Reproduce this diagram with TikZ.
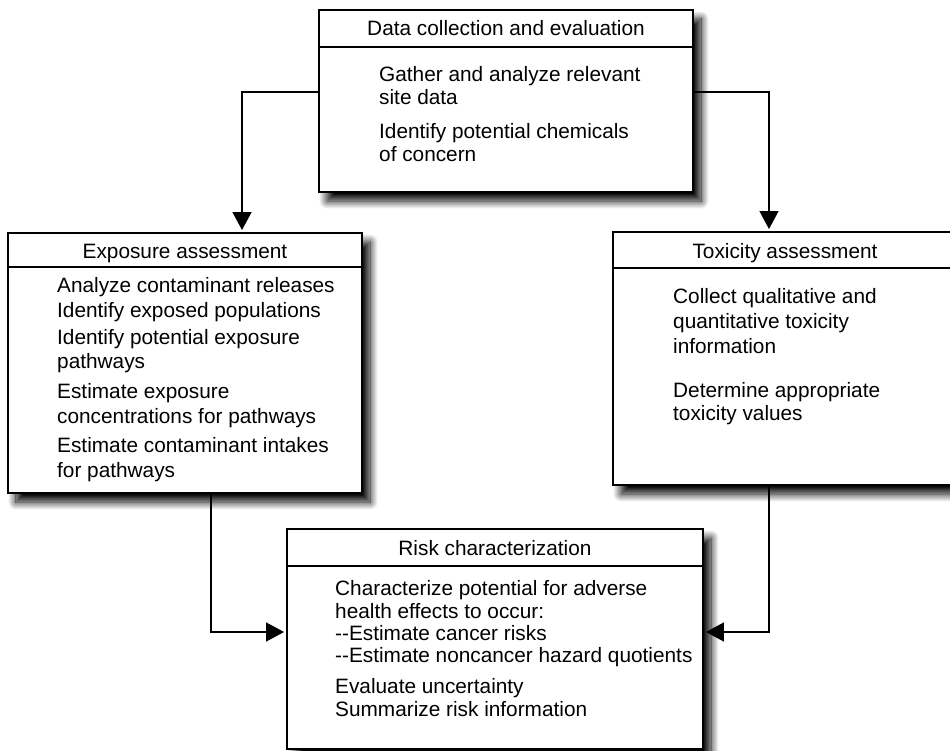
\documentclass[tikz,border=0pt]{standalone}
\usepackage{fontspec}
\setmainfont{Liberation Sans}
\usetikzlibrary{shadows.blur,arrows.meta}
\begin{document}
\begin{tikzpicture}[x=1pt,y=-1pt,
  box/.style={draw=black, line width=1.9pt, fill=white, rectangle, inner sep=0pt,
    blur shadow={shadow xshift=8pt, shadow yshift=-9pt, shadow blur radius=8pt, shadow blur steps=16, shadow opacity=100}},
  ttl/.style={anchor=base, font=\fontsize{20.8}{24}\selectfont, inner sep=0pt},
  txt/.style={anchor=base west, font=\fontsize{20.8}{24}\selectfont, inner sep=0pt},
  arr/.style={line width=1.3pt, -{Triangle[length=18pt,width=19pt]}, shorten >=2pt},
  divline/.style={line width=1.9pt}]
\useasboundingbox (0,0) rectangle (950,751);
\clip (0,0) rectangle (950,751);

% boxes
\node[box, minimum width=374pt, minimum height=182pt] (top) at (506,101) {};
\node[box, minimum width=354pt, minimum height=260pt] (expo) at (185,363) {};
\node[box, minimum width=344pt, minimum height=253pt] (tox) at (785,358.5) {};
\node[box, minimum width=416pt, minimum height=220pt] (risk) at (495,639) {};

% dividers
\draw[divline] (top.west |- 0,47) -- (top.east |- 0,47);
\draw[divline] (expo.west |- 0,267) -- (expo.east |- 0,267);
\draw[divline] (tox.west |- 0,268) -- (tox.east |- 0,268);
\draw[divline] (risk.west |- 0,566) -- (risk.east |- 0,566);

% top box text
\node[ttl] (ttop) at (506,36) {Data collection and evaluation};
\node[txt] (t1) at (379,82) {Gather and analyze relevant};
\node[txt] (t2) at (379,105) {site data};
\node[txt] (t3) at (379,139) {Identify potential chemicals};
\node[txt] (t4) at (379,162) {of concern};

% exposure text
\node[ttl] (texpo) at (185,259) {Exposure assessment};
\node[txt] (e1) at (57,292) {Analyze contaminant releases};
\node[txt] (e2) at (57,317) {Identify exposed populations};
\node[txt] (e3) at (57,344) {Identify potential exposure};
\node[txt] (e4) at (57,368) {pathways};
\node[txt] (e5) at (57,398) {Estimate exposure};
\node[txt] (e6) at (57,423) {concentrations for pathways};
\node[txt] (e7) at (57,452) {Estimate contaminant intakes};
\node[txt] (e8) at (57,477) {for pathways};

% toxicity text
\node[ttl] (ttox) at (785,259) {Toxicity assessment};
\node[txt] (x1) at (673,303) {Collect qualitative and};
\node[txt] (x2) at (673,328) {quantitative toxicity};
\node[txt] (x3) at (673,353) {information};
\node[txt] (x4) at (673,397) {Determine appropriate};
\node[txt] (x5) at (673,420) {toxicity values};

% risk text
\node[ttl] (trisk) at (495,555) {Risk characterization};
\node[txt] (r1) at (335,595) {Characterize potential for adverse};
\node[txt] (r2) at (335,618) {health effects to occur:};
\node[txt] (r3) at (335,640) {-{}-Estimate cancer risks};
\node[txt] (r4) at (335,662) {-{}-Estimate noncancer hazard quotients};
\node[txt] (r5) at (335,693) {Evaluate uncertainty};
\node[txt] (r6) at (335,716) {Summarize risk information};

% connectors
\coordinate (c1) at (242,92);
\coordinate (c2) at (769,92);
\coordinate (c3) at (211,632);
\coordinate (c4) at (769,632);
\draw[arr] (c1 -| top.west) -| (c1 |- expo.north);
\draw[arr] (c2 -| top.east) -| (c2 |- tox.north);
\draw[arr] (c3 |- expo.south) |- (c3 -| risk.west);
\draw[arr] (c4 |- tox.south) |- (c4 -| risk.east);
\end{tikzpicture}
\end{document}
